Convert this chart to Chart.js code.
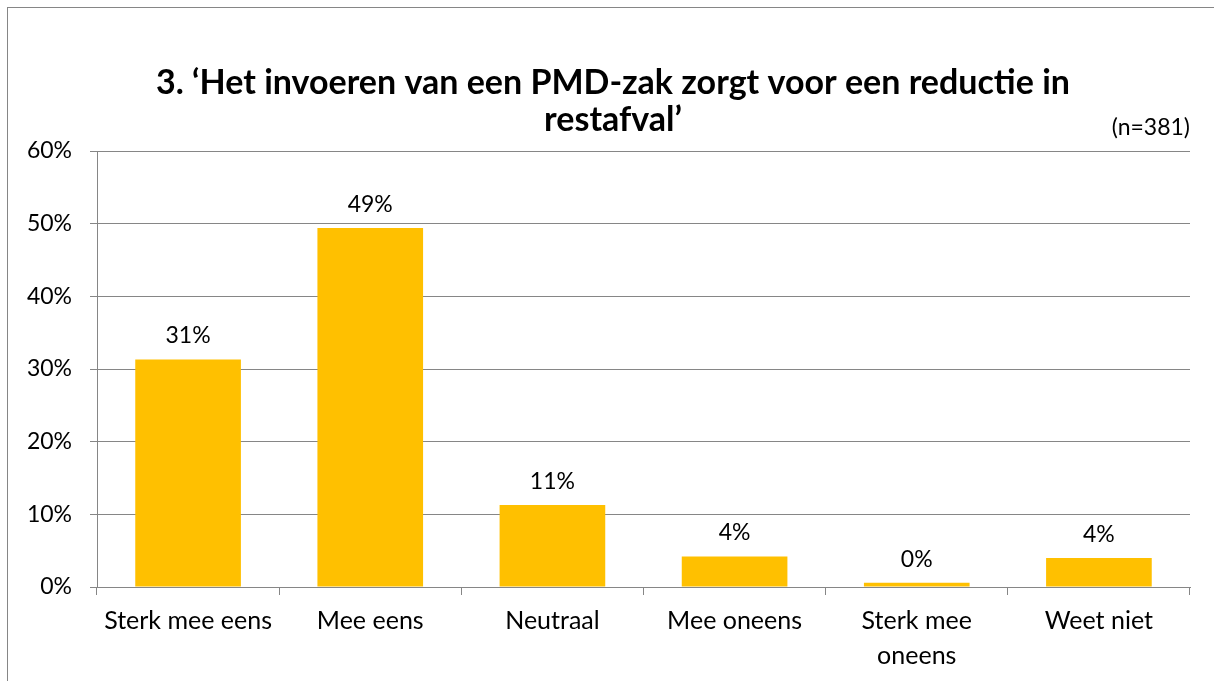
<!DOCTYPE html>
<html>
  <head>
    <meta charset="utf-8" />
    <title>PMD-zak</title>
    <style>
      html, body { margin: 0; padding: 0; background: #fff; }
      .wrap { position: relative; width: 1214px; height: 681px; }
    </style>
  </head>
  <body>
    <div class="wrap">
      <canvas id="myChart" width="1214" height="681"></canvas>
    </div>

    <script src="https://cdn.jsdelivr.net/npm/chart.js@4/dist/chart.umd.min.js"></script>
    <script>
      // data
      const categories = [
        "Sterk mee eens",
        "Mee eens",
        "Neutraal",
        "Mee oneens",
        ["Sterk mee", "oneens"],
        "Weet niet",
      ];
      const values = [31.3, 49.4, 11.3, 4.2, 0.6, 4.0];
      const valueLabels = ["31%", "49%", "11%", "4%", "0%", "4%"];
      const titleLines = [
        "3. \u2018Het invoeren van een PMD-zak zorgt voor een reductie in",
        "restafval\u2019",
      ];
      const sampleNote = "(n=381)";

      const FONT = "Lato";

      // gray frame and the two-line title (the built-in title can't be shifted off centre)
      const frame = {
        id: "frame",
        beforeDraw(chart) {
          const c = chart.ctx;
          c.save();
          c.fillStyle = "#fff";
          c.fillRect(0, 0, chart.width, chart.height);
          c.strokeStyle = "#868686";
          c.lineWidth = 1;
          c.strokeRect(7.5, 7.5, chart.width + 20, chart.height + 20);
          c.fillStyle = "#000";
          c.font = "bold 34px " + FONT;
          c.textAlign = "center";
          c.textBaseline = "middle";
          const cx = chart.width / 2 + 6;
          titleLines.forEach((line, i) => {
            c.fillText(line, cx, 83 + i * 37);
          });
          c.restore();
        },
      };

      // percentages above the bars and the (n=381) note
      const barLabels = {
        id: "barLabels",
        afterDatasetsDraw(chart) {
          const c = chart.ctx;
          const meta = chart.getDatasetMeta(0);
          c.save();
          c.font = "23px " + FONT;
          c.fillStyle = "#000";
          c.textAlign = "center";
          c.textBaseline = "bottom";
          meta.data.forEach((bar, i) => {
            c.fillText(valueLabels[i], bar.x, bar.y - 12);
          });
          c.textAlign = "right";
          c.textBaseline = "middle";
          c.fillText(sampleNote, chart.chartArea.right, chart.chartArea.top - 23);
          c.restore();
        },
      };

      const ctx = document.getElementById("myChart").getContext("2d");
      const myChart = new Chart(ctx, {
        type: "bar",
        data: {
          labels: categories,
          datasets: [
            {
              data: values,
              backgroundColor: "#FFC000",
              barPercentage: 0.58,
              categoryPercentage: 1,
            },
          ],
        },
        options: {
          responsive: false,
          animation: false,
          layout: { padding: { left: 8, right: 24, top: 151, bottom: 0 } },
          plugins: {
            legend: { display: false },
            tooltip: { enabled: false },
            title: { display: false },
          },
          scales: {
            x: {
              grid: {
                offset: true,
                drawOnChartArea: false,
                drawTicks: true,
                tickLength: 8,
                color: "#868686",
              },
              border: { color: "#868686" },
              ticks: {
                color: "#000",
                font: { family: FONT, size: 25, lineHeight: 1.4 },
                padding: 8,
                maxRotation: 0,
                autoSkip: false,
              },
            },
            y: {
              min: 0,
              max: 60,
              afterFit(scale) {
                scale.width = 89;
              },
              grid: { color: "#868686", tickLength: 7 },
              border: { color: "#868686" },
              ticks: {
                stepSize: 10,
                color: "#000",
                font: { family: FONT, size: 23 },
                padding: 18,
                callback: (v) => v + "%",
              },
            },
          },
        },
        plugins: [frame, barLabels],
      });
    </script>
  </body>
</html>
